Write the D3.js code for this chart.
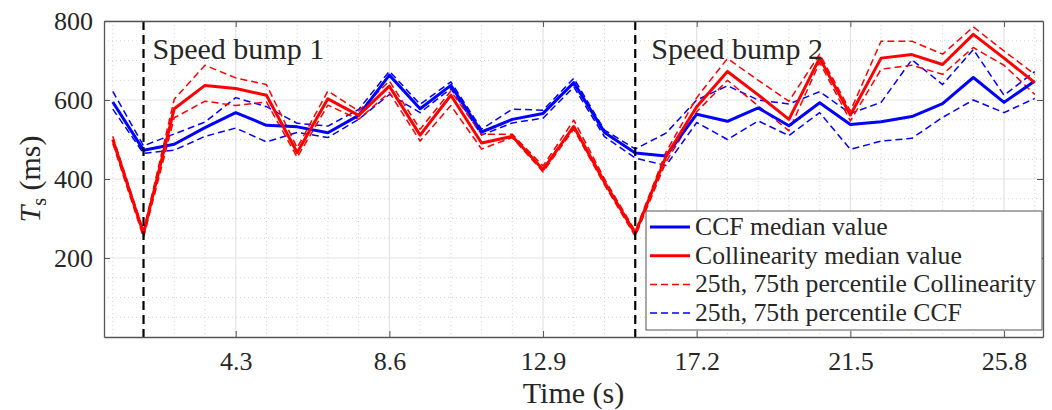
<!DOCTYPE html>
<html>
<head>
<meta charset="utf-8">
<script src="https://cdn.jsdelivr.net/npm/d3@7"></script>
<style>
  body { margin: 0; background: #fff; }
  text { font-family: "Liberation Serif", "Times New Roman", serif; fill: #262626; }
  .tick line { stroke: #555; }
  .domain { stroke: #555; }
</style>
</head>
<body>
<div class="chart"></div>
<script>
// sample times (s), one every 0.86 s
var times = [0.86, 1.72, 2.58, 3.44, 4.3, 5.16, 6.02, 6.88, 7.74, 8.6,
             9.46, 10.32, 11.18, 12.04, 12.9, 13.76, 14.62, 15.48, 16.34, 17.2,
             18.06, 18.92, 19.78, 20.64, 21.5, 22.36, 23.22, 24.08, 24.94, 25.8, 26.66];

var ccfMedian = [595, 473, 488, 530, 568, 536, 532, 517, 561, 663,
                 578, 637, 519, 551, 566, 644, 518, 466, 458, 564,
                 546, 580, 535, 593, 538, 545, 558, 591, 657, 594, 648];
var ccfP75 = [622, 484, 514, 544, 606, 583, 541, 534, 576, 673,
              589, 646, 526, 577, 574, 655, 524, 476, 516, 600,
              636, 600, 590, 621, 566, 594, 702, 639, 728, 612, 672];
var ccfP25 = [577, 465, 473, 508, 529, 494, 518, 505, 551, 614,
              568, 629, 511, 542, 554, 633, 507, 453, 434, 543,
              500, 547, 510, 568, 475, 496, 503, 556, 600, 568, 604];

var colMedian = [500, 262, 578, 637, 629, 612, 467, 603, 561, 635,
                 511, 612, 491, 508, 424, 533, 392, 262, 457, 583,
                 672, 613, 551, 706, 562, 706, 715, 690, 766, 706, 644];
var colP75 = [508, 268, 602, 688, 656, 639, 479, 623, 572, 648,
              526, 623, 513, 513, 433, 549, 400, 268, 468, 606,
              705, 650, 597, 716, 572, 749, 749, 716, 785, 724, 665];
var colP25 = [490, 252, 555, 597, 586, 595, 455, 587, 551, 619,
              496, 586, 476, 505, 418, 526, 385, 255, 443, 570,
              650, 585, 522, 695, 547, 678, 688, 665, 733, 688, 614];

var bumpTimes = [1.72, 15.48];
var bumpLabels = ["Speed bump 1", "Speed bump 2"];

var xTicks = [4.3, 8.6, 12.9, 17.2, 21.5, 25.8];
var yTicks = [200, 400, 600, 800];

var legendLabels = ["CCF median value", "Collinearity median value",
                    "25th, 75th percentile Collinearity", "25th, 75th percentile CCF"];

var width = 1052
var height = 410
var plotLeft = 104, plotRight = 1043, plotTop = 21, plotBottom = 337;

var svg = d3.select(".chart").append("svg")
            .attr("width", width)
            .attr("height", height);

var x = d3.scaleLinear().domain([0.6145, 26.89]).range([plotLeft, plotRight]);
var y = d3.scaleLinear().domain([0, 800]).range([plotBottom, plotTop]);

// minor grid (dotted)
var minorX = times.filter(function(t) { return xTicks.indexOf(t) < 0; });
svg.selectAll(".minorx").data(minorX).enter().append("line")
   .attr("x1", function(d) { return x(d); })
   .attr("x2", function(d) { return x(d); })
   .attr("y1", plotTop).attr("y2", plotBottom)
   .attr("stroke", "#d4d4d4").attr("stroke-width", 1)
   .attr("stroke-dasharray", "1,3");

var minorY = d3.range(50, 800, 50).filter(function(v) { return v % 200 != 0; });
svg.selectAll(".minory").data(minorY).enter().append("line")
   .attr("x1", plotLeft).attr("x2", plotRight)
   .attr("y1", function(d) { return y(d); })
   .attr("y2", function(d) { return y(d); })
   .attr("stroke", "#d4d4d4").attr("stroke-width", 1)
   .attr("stroke-dasharray", "1,3");

// major grid
svg.selectAll(".majorx").data(xTicks).enter().append("line")
   .attr("x1", function(d) { return x(d); })
   .attr("x2", function(d) { return x(d); })
   .attr("y1", plotTop).attr("y2", plotBottom)
   .attr("stroke", "#e3e3e3").attr("stroke-width", 1.2);

svg.selectAll(".majory").data(yTicks).enter().append("line")
   .attr("x1", plotLeft).attr("x2", plotRight)
   .attr("y1", function(d) { return y(d); })
   .attr("y2", function(d) { return y(d); })
   .attr("stroke", "#e3e3e3").attr("stroke-width", 1.2);

var makeLine = function(values) {
  return d3.line()
           .x(function(d, i) { return x(times[i]); })
           .y(function(d) { return y(d); })(values);
}

var series = [
  { values: ccfP75, color: "#0000ff", width: 1.5, dash: "7,4" },
  { values: ccfP25, color: "#0000ff", width: 1.5, dash: "7,4" },
  { values: colP75, color: "#ff0000", width: 1.5, dash: "7,4" },
  { values: colP25, color: "#ff0000", width: 1.5, dash: "7,4" },
  { values: ccfMedian, color: "#0000ff", width: 3, dash: null },
  { values: colMedian, color: "#ff0000", width: 3, dash: null }
];

svg.selectAll(".series").data(series).enter().append("path")
   .attr("d", function(d) { return makeLine(d.values); })
   .attr("fill", "none")
   .attr("stroke", function(d) { return d.color; })
   .attr("stroke-width", function(d) { return d.width; })
   .attr("stroke-dasharray", function(d) { return d.dash; })
   .attr("stroke-linejoin", "round");

// speed bump markers
svg.selectAll(".bump").data(bumpTimes).enter().append("line")
   .attr("x1", function(d) { return x(d); })
   .attr("x2", function(d) { return x(d); })
   .attr("y1", plotTop).attr("y2", plotBottom)
   .attr("stroke", "black").attr("stroke-width", 2.2)
   .attr("stroke-dasharray", "9,5");

var labelOffsets = [9, 16];
svg.selectAll(".bumplabel").data(bumpTimes).enter().append("text")
   .attr("x", function(d, i) { return x(d) + labelOffsets[i]; })
   .attr("y", 59)
   .attr("font-size", 30)
   .text(function(d, i) { return bumpLabels[i]; });

// axes
var xAxis = svg.append("g")
   .attr("transform", "translate(0," + plotBottom + ")")
   .call(d3.axisBottom(x).tickValues(xTicks).tickSizeInner(-6).tickSizeOuter(0)
          .tickPadding(15).tickFormat(d3.format(".1f")));
var xTop = svg.append("g")
   .attr("transform", "translate(0," + plotTop + ")")
   .call(d3.axisTop(x).tickValues(xTicks).tickSizeInner(-6).tickSizeOuter(0).tickFormat(""));
var yAxis = svg.append("g")
   .attr("transform", "translate(" + plotLeft + ",0)")
   .call(d3.axisLeft(y).tickValues(yTicks).tickSizeInner(-6).tickSizeOuter(0).tickPadding(11));
var yRight = svg.append("g")
   .attr("transform", "translate(" + plotRight + ",0)")
   .call(d3.axisRight(y).tickValues(yTicks).tickSizeInner(-6).tickSizeOuter(0).tickFormat(""));

svg.selectAll(".domain").attr("stroke-width", 1.3);
svg.selectAll(".tick text")
   .attr("font-family", "Liberation Serif, serif")
   .attr("font-size", 26)
   .attr("fill", "#262626");

svg.append("text")
   .attr("x", (plotLeft + plotRight) / 2)
   .attr("y", 403)
   .attr("text-anchor", "middle")
   .attr("font-size", 30)
   .text("Time (s)");

var yLabel = svg.append("text")
   .attr("transform", "translate(40," + ((plotTop + plotBottom) / 2) + ") rotate(-90)")
   .attr("text-anchor", "middle")
   .attr("font-size", 30);
yLabel.append("tspan").attr("font-style", "italic").text("T");
yLabel.append("tspan").attr("font-size", 20).attr("dy", 6).text("s");
yLabel.append("tspan").attr("dy", -6).text(" (ms)");

// legend
var legendX = 646, legendY = 211, legendW = 396, legendH = 119;
var legendStyles = [
  { color: "#0000ff", width: 3, dash: null },
  { color: "#ff0000", width: 3, dash: null },
  { color: "#ff0000", width: 1.5, dash: "7,4" },
  { color: "#0000ff", width: 1.5, dash: "7,4" }
];

svg.append("rect")
   .attr("x", legendX).attr("y", legendY)
   .attr("width", legendW).attr("height", legendH)
   .attr("fill", "white")
   .attr("stroke", "#555").attr("stroke-width", 1);

var rows = svg.selectAll(".legrow").data(legendLabels).enter().append("g")
   .attr("transform", function(d, i) { return "translate(" + legendX + "," + (227 + i * 28.7) + ")"; });

rows.append("line")
    .attr("x1", 4).attr("x2", 44).attr("y1", 0).attr("y2", 0)
    .attr("stroke", function(d, i) { return legendStyles[i].color; })
    .attr("stroke-width", function(d, i) { return legendStyles[i].width; })
    .attr("stroke-dasharray", function(d, i) { return legendStyles[i].dash; });

rows.append("text")
    .attr("x", 49)
    .attr("y", 8)
    .attr("font-size", 25.7)
    .text(function(d) { return d; });
</script>
</body>
</html>
